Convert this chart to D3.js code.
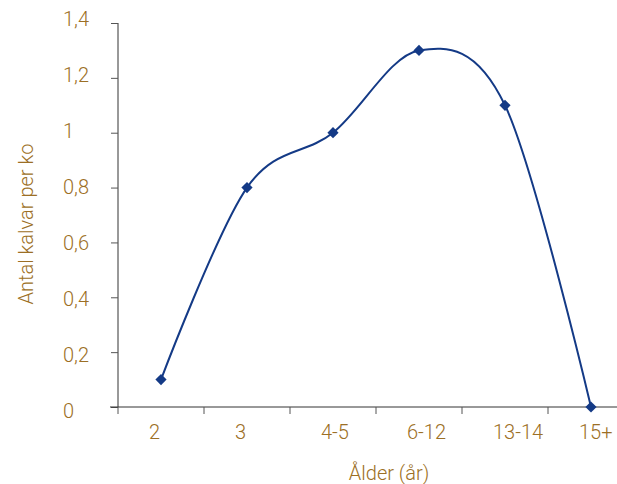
<!DOCTYPE html>
<html>
<head>
<meta charset="utf-8">
<script src="https://cdn.jsdelivr.net/npm/d3@7"></script>
<style>
  body { margin: 0; background: #fff; }
  text { font-family: Roboto, "Liberation Sans", Arial, sans-serif; font-weight: 300; }
</style>
</head>
<body>
<svg id="chart" width="617" height="484"></svg>
<script>
// data
var ages = ["2", "3", "4-5", "6-12", "13-14", "15+"];
var calves = [0.1, 0.8, 1.0, 1.3, 1.1, 0.0];
var yTicks = [0, 0.2, 0.4, 0.6, 0.8, 1.0, 1.2, 1.4];

var gold = "#9c6f25";
var navy = "#143a86";

var svg = d3.select("#chart");

var x = d3.scaleBand()
  .domain(ages)
  .range([118, 634]);
var y = d3.scaleLinear()
  .domain([0, 1.4])
  .range([407, 23]);
// tick labels sit a bit apart from the ticks
var yLab = d3.scaleLinear()
  .domain([0, 1.4])
  .range([411, 18.5]);

var fmt = function(d) { return d3.format(".1f")(d).replace(".0", "").replace(".", ","); };

// y axis
var yAxis = svg.append("g")
  .attr("transform", "translate(118,0)")
  .call(d3.axisLeft(y).tickValues(yTicks).tickSize(7).tickFormat(""));
yAxis.select(".domain").attr("stroke", "#333").attr("d", "M0,23V407");
yAxis.selectAll(".tick line").attr("stroke", "#555");

svg.append("g").selectAll("text")
  .data(yTicks)
  .enter()
  .append("text")
  .attr("x", 63)
  .attr("y", function(d) { return yLab(d); })
  .attr("dy", "0.35em")
  .attr("fill", gold)
  .style("font-size", "20px")
  .text(fmt);

// x axis
var xAxis = svg.append("g")
  .attr("transform", "translate(0,407)")
  .call(d3.axisBottom(x).tickSize(0).tickFormat(""));
xAxis.select(".domain").attr("stroke", "#333").attr("d", "M110,0H634");
xAxis.selectAll(".tick").remove();

// category boundary ticks
svg.append("g").selectAll("line")
  .data(ages)
  .enter()
  .append("line")
  .attr("x1", function(d) { return x(d); })
  .attr("x2", function(d) { return x(d); })
  .attr("y1", 407)
  .attr("y2", 414)
  .attr("stroke", "#555");

svg.append("g").selectAll("text")
  .data(ages)
  .enter()
  .append("text")
  .attr("x", function(d) { return x(d) + 31; })
  .attr("y", 439)
  .attr("fill", gold)
  .style("font-size", "20px")
  .text(function(d) { return d; });

// titles
svg.append("text")
  .attr("transform", "translate(33,224) rotate(-90)")
  .attr("text-anchor", "middle")
  .attr("fill", gold)
  .style("font-size", "20px")
  .text("Antal kalvar per ko");

svg.append("text")
  .attr("x", 389)
  .attr("y", 480)
  .attr("text-anchor", "middle")
  .attr("fill", gold)
  .style("font-size", "20px")
  .text("Ålder (år)");

// smoothed line
var pts = ages.map(function(a, i) { return [x(a) + x.bandwidth() / 2, y(calves[i])]; });
var line = d3.line().curve(d3.curveCatmullRom.alpha(0));

svg.append("path")
  .attr("d", line(pts))
  .attr("fill", "none")
  .attr("stroke", navy)
  .attr("stroke-width", 2);

svg.append("g").selectAll("path")
  .data(pts)
  .enter()
  .append("path")
  .attr("transform", function(d) { return "translate(" + d[0] + "," + d[1] + ")"; })
  .attr("d", d3.symbol().type(d3.symbolDiamond2).size(80))
  .attr("fill", navy);
</script>
</body>
</html>
